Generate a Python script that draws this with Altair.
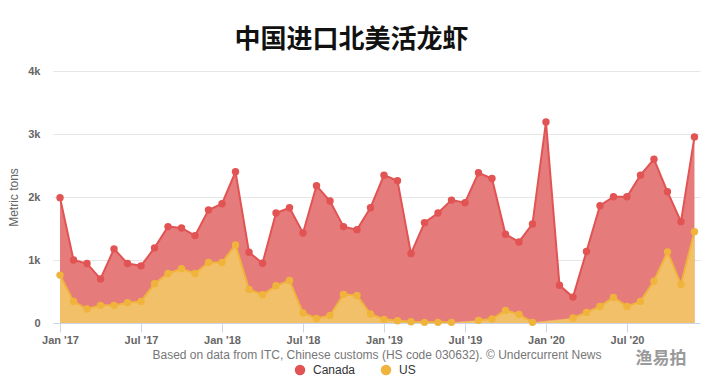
import altair as alt
import pandas as pd

months = [f"{y}-{m:02d}" for y in (2017, 2018, 2019, 2020) for m in range(1, 13)]
tick_labels = ["Jan '17", "Jul '17", "Jan '18", "Jul '18", "Jan '19", "Jul '19", "Jan '20", "Jul '20"]

canada = [1990, 1000, 944, 700, 1176, 944, 907, 1192, 1530, 1508, 1387, 1793,
          1893, 2400, 1123, 949, 1746, 1830, 1429, 2178, 1936, 1530, 1482, 1830,
          2347, 2257, 1102, 1593, 1746, 1951, 1909, 2384, 2294, 1408, 1287, 1572,
          3191, 600, 411, 1134, 1862, 2004, 2004, 2347, 2600, 2083, 1609, 2954]
us = [760, 343, 222, 280, 280, 322, 343, 622, 786, 860, 786, 960,
      960, 1240, 533, 448, 591, 675, 158, 73, 120, 453, 437, 142,
      58, 37, 21, 10, 10, 10, None, 42, 63, 200, 137, 10,
      None, None, 79, 168, 263, 405, 263, 343, 665, 1129, 612, 1450]

series_names = ["Canada", "US"]
line_colors = ["#e25353", "#f0b43c"]
fill_colors = ["#e67b7b", "#f2c069"]

credits = "Based on data from ITC, Chinese customs (HS code 030632). © Undercurrent News"
ytitle = "Metric tons"
title = "中国进口北美活龙虾"
watermark = "渔易拍"

rows = []
for i, (m, v) in enumerate(zip(months, canada)):
    rows.append(dict(idx=i, month=m, series="Canada", value=v, seg=0))
seg = 0
prev = None
for i, (m, v) in enumerate(zip(months, us)):
    if v is None:
        if prev is not None:
            seg += 1
        prev = None
        continue
    rows.append(dict(idx=i, month=m, series="US", value=v, seg=seg))
    prev = v
df = pd.DataFrame(rows)

label_expr = "[" + ",".join('"%s"' % t for t in tick_labels) + "][datum.value / 6]"

x = alt.X("idx:Q",
          scale=alt.Scale(domain=[-0.52, 47.41], nice=False, zero=False),
          axis=alt.Axis(values=list(range(0, 48, 6)), labelExpr=label_expr, title=credits,
                        grid=False, domainColor="#ccd6eb", tickColor="#ccd6eb", tickSize=9,
                        labelPadding=2, labelFont="Liberation Sans", labelFontSize=11,
                        labelFontWeight="bold", labelColor="#666666",
                        titleFont="Liberation Sans", titleFontSize=12, titleFontWeight="normal",
                        titleColor="#777777", titlePadding=4))
y = alt.Y("value:Q",
          scale=alt.Scale(domain=[0, 4000], nice=False),
          axis=alt.Axis(values=[0, 1000, 2000, 3000, 4000],
                        labelExpr="datum.value == 0 ? '0' : (datum.value / 1000) + 'k'",
                        title=ytitle,
                        grid=True, gridColor="#e6e6e6", domain=False, ticks=False,
                        labelPadding=13, labelFont="Liberation Sans", labelFontSize=11,
                        labelFontWeight="bold", labelColor="#666666",
                        titleFont="Liberation Sans", titleFontSize=12, titleFontWeight="normal",
                        titleColor="#666666", titlePadding=7))

base = alt.Chart(df)
layers = []
for name, fc in zip(series_names, fill_colors):
    layers.append(base.transform_filter(alt.datum.series == name)
                  .mark_area(color=fc, opacity=1)
                  .encode(x=x, y=y, detail="seg:N"))
for name, lc in zip(series_names, line_colors):
    layers.append(base.transform_filter(alt.datum.series == name)
                  .mark_line(color=lc, strokeWidth=2)
                  .encode(x=x, y=y, detail="seg:N"))
layers.append(base.mark_circle(size=55, opacity=1).encode(
    x=x, y=y,
    color=alt.Color("series:N", scale=alt.Scale(domain=series_names, range=line_colors),
                    legend=alt.Legend(orient="none", legendX=241, legendY=293,
                                      direction="horizontal", title=None, symbolType="circle",
                                      symbolSize=110, labelFontSize=12, labelColor="#333333",
                                      labelFont="Liberation Sans", columnPadding=24,
                                      labelOffset=7))))
layers.append(alt.Chart(pd.DataFrame({"t": [watermark]})).mark_text(
    font="Noto Sans CJK SC", fontSize=17, color="#9a9a9a", fontWeight="bold"
).encode(text="t:N", x=alt.value(608), y=alt.value(288)))

chart = alt.layer(*layers).properties(
    width=647, height=252,
    padding={"left": 45, "top": 63, "right": 1, "bottom": 60},
    autosize=alt.AutoSizeParams(type="none"),
    title=alt.TitleParams(text=title, font="Noto Sans CJK SC", fontSize=26, fontWeight="bold",
                          color="#111111", anchor="middle", dx=-25, offset=12),
).configure_view(stroke=None)

chart.save("out.html", embed_options={"renderer": "svg", "actions": False})
